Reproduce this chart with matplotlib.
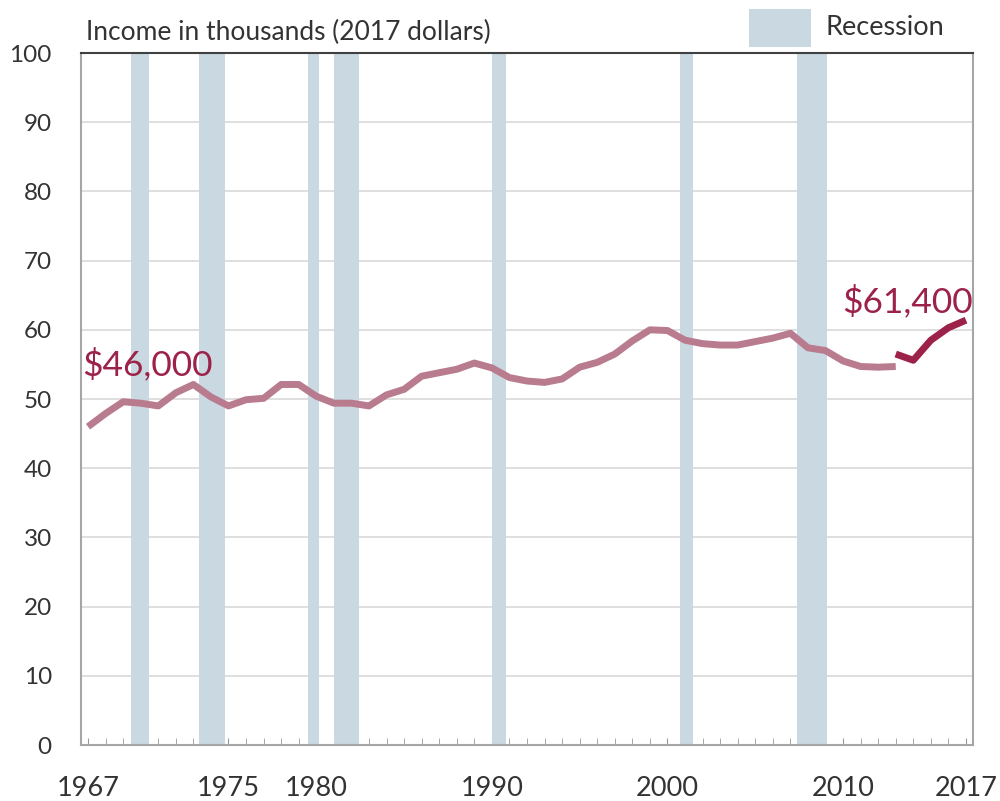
import matplotlib
matplotlib.use('Agg')
import matplotlib.pyplot as plt
from matplotlib.patches import Rectangle

plt.rcParams['font.family'] = ['Lato', 'DejaVu Sans']

years_old = list(range(1967, 2014))
income_old = [46.0, 47.9, 49.6, 49.4, 49.0, 50.9, 52.1, 50.3, 49.0, 49.9,
              50.1, 52.1, 52.1, 50.4, 49.4, 49.4, 49.0, 50.6, 51.4, 53.3,
              53.8, 54.3, 55.2, 54.5, 53.1, 52.6, 52.4, 52.9, 54.6, 55.3,
              56.5, 58.4, 60.0, 59.9, 58.5, 58.0, 57.8, 57.8, 58.3, 58.8,
              59.5, 57.4, 57.0, 55.5, 54.7, 54.6, 54.7]
years_new = [2013, 2014, 2015, 2016, 2017]
income_new = [56.5, 55.6, 58.5, 60.3, 61.4]

# recession bands (start, end) as drawn in the source chart
recessions = [(1969.45, 1970.49), (1973.34, 1974.78), (1979.55, 1980.15),
              (1981.01, 1982.45), (1990.02, 1990.8), (2000.71, 2001.47),
              (2007.39, 2009.07)]

light = '#b97b8e'
dark = '#9c2249'
band = '#c9d8e1'
txt = '#333333'

fig = plt.figure(figsize=(10, 8.01), dpi=100)
ax = fig.add_axes([0.081, 0.0699, 0.892, 0.8639])

for s, e in recessions:
    ax.axvspan(s, e, color=band, lw=0, zorder=1)

ax.set_ylim(0, 100)
ax.set_xlim(1966.6, 2017.4)
ax.set_yticks(range(0, 101, 10))
ax.yaxis.grid(True, color='#d9d9d9', lw=1.2, zorder=0)
ax.set_axisbelow(True)

ax.plot(years_old, income_old, color=light, lw=5, solid_capstyle='butt',
        solid_joinstyle='round', zorder=3)
ax.plot(years_new, income_new, color=dark, lw=5, solid_capstyle='butt',
        solid_joinstyle='round', zorder=3)

ax.set_xticks(range(1967, 2018), minor=True)
ax.set_xticks([1967, 1975, 1980, 1990, 2000, 2010, 2017])
ax.tick_params(axis='x', which='both', direction='in', length=5, color='#999999',
               labelsize=19.5, labelcolor=txt, pad=22)
ax.tick_params(axis='y', length=0, labelsize=17.5, labelcolor=txt, pad=21)

for side in ['left', 'right', 'bottom']:
    ax.spines[side].set_color('#a6a6a6')
    ax.spines[side].set_linewidth(1.5)
ax.spines['top'].set_color('#404040')
ax.spines['top'].set_linewidth(1.5)

ax.text(1966.65, 53.5, '$46,000', color=dark, fontsize=25.5, ha='left', va='baseline')
ax.text(2017.4, 62.6, '$61,400', color=dark, fontsize=25.5, ha='right', va='baseline')

fig.text(0.086, 0.96, 'Income in thousands (2017 dollars)', color=txt,
         fontsize=19, ha='left', va='center')
fig.patches.append(Rectangle((0.749, 0.941), 0.062, 0.048, transform=fig.transFigure,
                             color=band, lw=0))
fig.text(0.826, 0.966, 'Recession', color=txt, fontsize=19.5, ha='left', va='center')

fig.savefig('out.png', dpi=100)
